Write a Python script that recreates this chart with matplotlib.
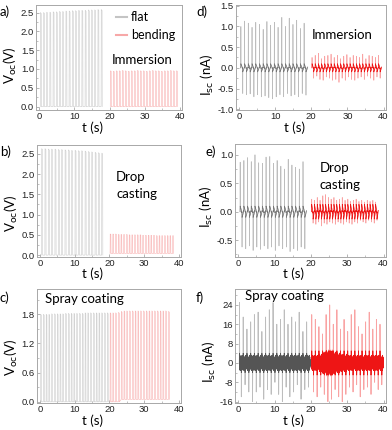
import numpy as np
import matplotlib.pyplot as plt
from matplotlib.ticker import MultipleLocator

W, H = 392, 430

# ---- Voc data: (first cycle time, last cycle time), peak per cycle, baseline
A_FLAT_T = (0.3, 17.6)
A_FLAT_PEAK = [2.50, 2.50, 2.51, 2.51, 2.52, 2.52, 2.53, 2.53, 2.54, 2.54,
               2.55, 2.55, 2.56, 2.56, 2.56, 2.57, 2.57, 2.57, 2.58, 2.58]
A_BEND_T = (20.2, 39.0)
A_BEND_PEAK = [0.95, 0.94, 0.95, 0.95, 0.96, 0.95, 0.94, 0.95, 0.95, 0.96, 0.95, 0.95,
               0.94, 0.95, 0.96, 0.95, 0.95, 0.94, 0.95, 0.95, 0.96, 0.95, 0.95]

B_FLAT_T = (0.5, 17.8)
B_FLAT_PEAK = [2.63, 2.63, 2.62, 2.62, 2.62, 2.61, 2.61, 2.60, 2.60, 2.59,
               2.59, 2.58, 2.58, 2.57, 2.56, 2.55, 2.54, 2.53, 2.52]
B_BEND_T = (20.2, 38.2)
B_BEND_PEAK = [0.52, 0.52, 0.52, 0.51, 0.51, 0.51, 0.51, 0.50, 0.50, 0.50, 0.50, 0.50,
               0.49, 0.49, 0.49, 0.49, 0.49, 0.48, 0.48, 0.48, 0.48, 0.48, 0.48, 0.48]
B_BEND_BASE = 0.04

C_FLAT_T = (0.2, 19.4)
C_FLAT_PEAK = [1.80, 1.80, 1.80, 1.80, 1.81, 1.81, 1.81, 1.81, 1.81, 1.82, 1.82, 1.82,
               1.82, 1.82, 1.82, 1.82, 1.83, 1.83, 1.83, 1.83, 1.83, 1.83, 1.83, 1.83, 1.83]
C_BEND_T = (20.2, 37.0)
C_BEND_PEAK = [1.83, 1.83, 1.83, 1.84, 1.86, 1.87, 1.87, 1.87, 1.87, 1.87, 1.87,
               1.87, 1.87, 1.87, 1.87, 1.87, 1.87, 1.87, 1.87, 1.87, 1.87, 1.86]
C_BEND_BASE = [0.0, 0.0, 0.0, 0.0, 0.05, 0.05, 0.05, 0.05, 0.05, 0.05, 0.05,
               0.05, 0.05, 0.05, 0.05, 0.05, 0.05, 0.05, 0.05, 0.05, 0.05, 0.05]

# ---- Isc data: positive spike, negative spike, ripple amplitude per cycle
D_FLAT_T = (0.5, 18.0)
D_FLAT_POS = [1.00, 1.13, 1.08, 0.98, 1.10, 1.05, 0.93, 1.12, 1.03,
              1.10, 0.98, 1.22, 1.00, 1.20, 1.05, 1.15, 0.95, 1.08]
D_FLAT_NEG = [-0.62, -0.65, -0.63, -0.70, -0.65, -0.70, -0.68, -0.72, -0.75,
              -0.70, -0.65, -0.70, -0.62, -0.68, -0.65, -0.70, -0.62, -0.66]
D_FLAT_BAND = 0.09
D_BEND_T = (20.2, 38.6)
D_BEND_POS = [0.25, 0.30, 0.35, 0.22, 0.28, 0.30, 0.33, 0.25, 0.30, 0.22, 0.28,
              0.32, 0.25, 0.30, 0.28, 0.25, 0.33, 0.22, 0.30, 0.28, 0.25, 0.30]
D_BEND_NEG = [-0.25, -0.20, -0.28, -0.30, -0.22, -0.25, -0.30, -0.28, -0.35, -0.25, -0.30,
              -0.22, -0.28, -0.30, -0.25, -0.22, -0.28, -0.20, -0.25, -0.30, -0.22, -0.25]
D_BEND_BAND = 0.09

E_FLAT_T = (0.5, 17.8)
E_FLAT_POS = [0.87, 0.90, 0.95, 0.88, 1.00, 0.86, 0.85, 0.96, 0.97,
              0.85, 0.90, 0.80, 0.75, 0.92, 0.82, 0.78, 0.75, 0.88]
E_FLAT_NEG = [-0.62, -0.65, -0.60, -0.68, -0.62, -0.66, -0.60, -0.65, -0.62,
              -0.68, -0.60, -0.65, -0.62, -0.70, -0.65, -0.68, -0.62, -0.65]
E_FLAT_BAND = 0.09
E_BEND_T = (20.2, 37.8)
E_BEND_POS = [0.22, 0.20, 0.25, 0.20, 0.28, 0.30, 0.25, 0.22, 0.25, 0.20, 0.22, 0.25,
              0.20, 0.22, 0.18, 0.20, 0.22, 0.18, 0.20, 0.17, 0.20, 0.18, 0.20, 0.17]
E_BEND_NEG = [-0.20, -0.22, -0.18, -0.25, -0.20, -0.22, -0.18, -0.20, -0.22, -0.18, -0.20, -0.22,
              -0.18, -0.20, -0.22, -0.18, -0.20, -0.15, -0.18, -0.20, -0.15, -0.18, -0.20, -0.15]
E_BEND_BAND = 0.12

F_FLAT_T = (0.3, 18.8)
F_FLAT_POS = [25, 19, 14, 17, 20, 21, 13, 19, 22, 25, 16, 18, 22, 16, 19, 17, 21, 13, 17]
F_FLAT_NEG = [-14, -9, -12, -16, -12, -10, -15, -11, -13, -8, -13, -16, -10, -14, -12, -9, -15, -11, -10]
F_FLAT_BAND = 3.5
F_BEND_T = (20.2, 39.0)
F_BEND_POS = [20, 18, 15, 12, 20, 24, 16, 22, 14, 18, 13, 20, 22, 15, 12, 17, 21, 14, 18, 16]
F_BEND_NEG = [-12, -14, -10, -13, -16, -15, -11, -14, -16, -13, -10, -12, -9, -14, -11, -10, -13, -8, -11, -9]
F_BEND_BAND = [3.5, 3.5, 4, 5, 6, 6, 5, 4.5, 4, 4, 3.5, 3.5, 3.5, 3.5, 3.5, 3.5, 3.5, 3.5, 3.5, 3.5]

# shape of one cycle
VOC_FRAC = [0.0, 0.04, 0.30, 0.34]
RIPPLE_SMALL = [1.0, 0.5, -0.2]
RIPPLE_DENSE = [1.0, -0.7, 0.9, -0.8, 0.8, -0.9, 0.7, -0.6, 0.6, -0.7, 0.5, -0.4, 0.3]


def voc_trace(span, peaks, base=0.0):
    n = len(peaks)
    times = np.linspace(span[0], span[1], n)
    per = (span[1] - span[0]) / (n - 1)
    base = np.broadcast_to(base, n)
    xs, ys = [], []
    for t, p, b in zip(times, peaks, base):
        xs += list(t + per * np.array(VOC_FRAC))
        ys += [b, p, p * 0.99, b]
    return xs, ys


def isc_trace(span, pos, neg, band, ripple):
    n = len(pos)
    times = np.linspace(span[0], span[1], n)
    per = (span[1] - span[0]) / (n - 1)
    band = np.broadcast_to(band, n)
    half = list(np.linspace(0.06, 0.47, len(ripple)))
    frac = np.array([0.0, 0.03] + half + [0.5, 0.53] + [h + 0.5 for h in half])
    xs, ys = [], []
    for t, p, q, b in zip(times, pos, neg, band):
        xs += list(t + per * frac)
        ys += [0, p] + [b * r for r in ripple] + [0, q] + [-b * r for r in ripple]
    return np.array(xs), np.array(ys)


def isc_plot(ax, trace, light, dark, core, lw=0.5):
    # whole trace in a pale tone, the dense part near zero drawn again darker
    xs, ys = trace
    ax.plot(xs, ys, color=light, lw=lw)
    ax.plot(xs, np.clip(ys, -core, core), color=dark, lw=lw)


TICK_FONT = 'Liberation Sans'
LABEL_FONT = 'Lato'
SPINE = '#a8a8a8'

fig = plt.figure(figsize=(W / 100, H / 100), dpi=100)


def ax_at(l, t, r, b):
    return fig.add_axes([l / W, 1 - b / H, (r - l) / W, (b - t) / H])


def style(ax, ylim, ystep, ylab, ylab_y, fmt):
    ax.set_xlim(-0.9, 40.6)
    ax.set_ylim(*ylim)
    ax.xaxis.set_major_locator(MultipleLocator(10))
    ax.xaxis.set_minor_locator(MultipleLocator(5))
    ax.yaxis.set_major_locator(MultipleLocator(ystep))
    ax.yaxis.set_minor_locator(MultipleLocator(ystep / 2))
    ax.tick_params(which='both', direction='in', color=SPINE, labelsize=6.8,
                   pad=1.5, labelcolor='#222222')
    ax.tick_params(which='major', length=2.5, width=0.6)
    ax.tick_params(which='minor', length=1.5, width=0.5)
    for lab in ax.get_xticklabels() + ax.get_yticklabels():
        lab.set_fontfamily(TICK_FONT)
    ax.yaxis.set_major_formatter(fmt)
    for s in ax.spines.values():
        s.set_color(SPINE)
        s.set_linewidth(0.7)
    ax.set_xlabel('t (s)', fontsize=9.5, family=LABEL_FONT, labelpad=0, x=0.39)
    ax.set_ylabel(ylab, fontsize=9.5, family=LABEL_FONT, labelpad=1, y=ylab_y)


GRAY_V, PINK_V = '#c4c4c4', '#f7a8a8'
GRAY_L, GRAY_D = '#bdbdbd', '#555555'
RED_L, RED_D = '#f9a3a3', '#ee1515'
VOC = r'V$_{\rm oc}$(V)'
ISC = r'I$_{\rm sc}$ (nA)'
f1 = lambda v, p: f'{v:.1f}'
f0 = lambda v, p: f'{v:.0f}'
LW_V = 0.35

# a)
ax = ax_at(36, 5, 182, 110)
ax.plot(*voc_trace(A_FLAT_T, A_FLAT_PEAK), color=GRAY_V, lw=LW_V, label='flat')
ax.plot(*voc_trace(A_BEND_T, A_BEND_PEAK), color=PINK_V, lw=LW_V, label='bending')
style(ax, (-0.09, 2.7), 0.5, VOC, 0.43, f1)
leg = ax.legend(loc='upper right', bbox_to_anchor=(1.03, 1.05), frameon=False,
                handlelength=0.9, handletextpad=0.3, labelspacing=0.5,
                prop={'family': LABEL_FONT, 'size': 9})
for h in leg.get_lines():
    h.set_linewidth(1.5)
ax.text(0.52, 0.48, 'Immersion', transform=ax.transAxes, fontsize=9.5,
        family=LABEL_FONT, va='center')

# b)
ax = ax_at(36.7, 145, 181, 256.7)
ax.plot(*voc_trace(B_FLAT_T, B_FLAT_PEAK), color=GRAY_V, lw=LW_V)
ax.plot(*voc_trace(B_BEND_T, B_BEND_PEAK, B_BEND_BASE), color=PINK_V, lw=LW_V)
style(ax, (-0.04, 2.72), 0.5, VOC, 0.39, f1)
ax.text(0.55, 0.64, 'Drop\ncasting', transform=ax.transAxes, fontsize=9.5,
        family=LABEL_FONT, va='center', linespacing=1.5)

# c)
ax = ax_at(36.7, 289, 181, 403.3)
ax.plot(*voc_trace(C_FLAT_T, C_FLAT_PEAK), color=GRAY_V, lw=LW_V)
ax.plot(*voc_trace(C_BEND_T, C_BEND_PEAK, C_BEND_BASE), color=PINK_V, lw=LW_V)
style(ax, (-0.03, 2.32), 0.6, VOC, 0.40, f1)
ax.text(0.057, 0.91, 'Spray coating', transform=ax.transAxes, fontsize=9.5,
        family=LABEL_FONT, va='center')

# d)
ax = ax_at(235.7, 5, 385.7, 110)
isc_plot(ax, isc_trace(D_FLAT_T, D_FLAT_POS, D_FLAT_NEG, D_FLAT_BAND, RIPPLE_SMALL),
         GRAY_L, '#777777', 0.1)
isc_plot(ax, isc_trace(D_BEND_T, D_BEND_POS, D_BEND_NEG, D_BEND_BAND, RIPPLE_SMALL),
         RED_L, RED_D, 0.1)
style(ax, (-1.02, 1.52), 0.5, ISC, 0.33, f1)
ax.text(0.507, 0.714, 'Immersion', transform=ax.transAxes, fontsize=9.5,
        family=LABEL_FONT, va='center')

# e)
ax = ax_at(235, 144, 385.7, 256.7)
isc_plot(ax, isc_trace(E_FLAT_T, E_FLAT_POS, E_FLAT_NEG, E_FLAT_BAND, RIPPLE_SMALL),
         GRAY_L, '#777777', 0.1)
isc_plot(ax, isc_trace(E_BEND_T, E_BEND_POS, E_BEND_NEG, E_BEND_BAND, RIPPLE_SMALL),
         RED_L, RED_D, 0.13)
style(ax, (-0.79, 1.19), 0.5, ISC, 0.44, f1)
ax.text(0.564, 0.716, 'Drop\ncasting', transform=ax.transAxes, fontsize=9.5,
        family=LABEL_FONT, va='center', linespacing=1.5)

# f)
ax = ax_at(235, 289, 385.7, 403.3)
isc_plot(ax, isc_trace(F_FLAT_T, F_FLAT_POS, F_FLAT_NEG, F_FLAT_BAND, RIPPLE_DENSE),
         GRAY_L, GRAY_D, 4.0, lw=0.6)
isc_plot(ax, isc_trace(F_BEND_T, F_BEND_POS, F_BEND_NEG, F_BEND_BAND, RIPPLE_DENSE),
         RED_L, RED_D, 5.0, lw=0.6)
style(ax, (-16.7, 30.6), 8, ISC, 0.36, f0)
ax.text(0.066, 0.94, 'Spray coating', transform=ax.transAxes, fontsize=9.5,
        family=LABEL_FONT, va='center')

# panel letters
for lab, x, y in [('a)', 0, 12), ('b)', 0, 152), ('c)', 0, 298),
                  ('d)', 196, 12), ('e)', 206, 152), ('f)', 196, 298)]:
    fig.text(x / W, 1 - y / H, lab, fontsize=9.5, family=LABEL_FONT, va='center')

fig.savefig('out.png', dpi=100)
